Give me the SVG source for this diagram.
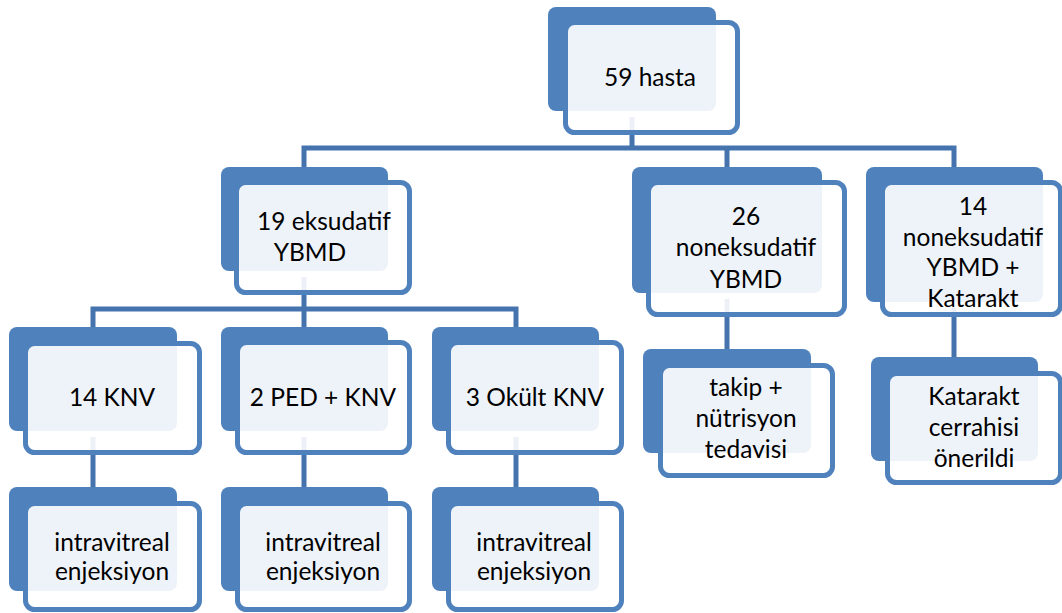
<svg xmlns="http://www.w3.org/2000/svg" width="1062" height="613" viewBox="0 0 1062 613">
<style>
.bk{fill:#4F81BD}
.fr{fill:#FFFFFF;fill-opacity:0.9;stroke:#4F81BD;stroke-width:5}
.cn{fill:none;stroke:#4573AD;stroke-width:5}
text{font-family:Lato,"Open Sans","Liberation Sans",sans-serif;font-size:24.5px;fill:#000;text-anchor:middle}
</style>
<rect width="1062" height="613" fill="#FFFFFF"/>
<g id="connectors">
<path class="cn" d="M632,117 V148"/>
<path class="cn" d="M304,167 V148 H954 V167"/>
<path class="cn" d="M727,148 V167"/>
<path class="cn" d="M304,277 V309"/>
<path class="cn" d="M93,327 V309 H516 V327"/>
<path class="cn" d="M304,309 V327"/>
<path class="cn" d="M93,437 V487"/>
<path class="cn" d="M304,437 V487"/>
<path class="cn" d="M516,437 V487"/>
<path class="cn" d="M727,299 V349"/>
<path class="cn" d="M954,308 V357"/>
</g>
<g id="n59">
<rect class="bk" x="548" y="7" width="168" height="104" rx="8"/>
<rect class="fr" x="565.5" y="22.5" width="172" height="110" rx="9"/>
<text x="650" y="86">59 hasta</text>
</g>
<g id="n19">
<rect class="bk" x="221" y="167" width="167" height="104" rx="8"/>
<rect class="fr" x="236.5" y="182.5" width="173" height="110" rx="9"/>
<text x="324" y="230">19 eksudatif</text>
<text x="310" y="261">YBMD</text>
</g>
<g id="n26">
<rect class="bk" x="632" y="167" width="190" height="126" rx="8"/>
<rect class="fr" x="648.5" y="182.5" width="196" height="132" rx="9"/>
<text x="746" y="225">26</text>
<text x="746" y="256">noneksudatif</text>
<text x="746" y="288">YBMD</text>
</g>
<g id="n14n">
<rect class="bk" x="866" y="167" width="177" height="135" rx="8"/>
<rect class="fr" x="882.5" y="182.5" width="178" height="132" rx="9"/>
<text x="973" y="215">14</text>
<text x="973" y="246">noneksudatif</text>
<text x="973" y="276">YBMD +</text>
<text x="973" y="307">Katarakt</text>
</g>
<g id="n14knv">
<rect class="bk" x="9" y="327" width="168" height="104" rx="8"/>
<rect class="fr" x="25.5" y="343.5" width="174" height="109" rx="9"/>
<text x="112" y="406">14 KNV</text>
</g>
<g id="n2ped">
<rect class="bk" x="221" y="327" width="167" height="104" rx="8"/>
<rect class="fr" x="237.5" y="342.5" width="172" height="110" rx="9"/>
<text x="323" y="406">2 PED + KNV</text>
</g>
<g id="n3okult">
<rect class="bk" x="432" y="327" width="167" height="104" rx="8"/>
<rect class="fr" x="448.5" y="342.5" width="173" height="110" rx="9"/>
<text x="535" y="406">3 Okült KNV</text>
</g>
<g id="ntakip">
<rect class="bk" x="643" y="349" width="168" height="104" rx="8"/>
<rect class="fr" x="660.5" y="365.5" width="172" height="110" rx="9"/>
<text x="746" y="396">takip +</text>
<text x="746" y="427">nütrisyon</text>
<text x="746" y="458">tedavisi</text>
</g>
<g id="nkatarakt">
<rect class="bk" x="871" y="357" width="167" height="104" rx="8"/>
<rect class="fr" x="887.5" y="373.5" width="173" height="109" rx="9"/>
<text x="974" y="405">Katarakt</text>
<text x="974" y="436">cerrahisi</text>
<text x="974" y="467">önerildi</text>
</g>
<g id="niv1">
<rect class="bk" x="9" y="487" width="168" height="104" rx="8"/>
<rect class="fr" x="25.5" y="503.5" width="174" height="106" rx="9"/>
<text x="112" y="551">intravitreal</text>
<text x="112" y="580">enjeksiyon</text>
</g>
<g id="niv2">
<rect class="bk" x="221" y="487" width="167" height="104" rx="8"/>
<rect class="fr" x="237.5" y="503.5" width="172" height="106" rx="9"/>
<text x="323" y="551">intravitreal</text>
<text x="323" y="580">enjeksiyon</text>
</g>
<g id="niv3">
<rect class="bk" x="432" y="487" width="167" height="104" rx="8"/>
<rect class="fr" x="448.5" y="503.5" width="173" height="106" rx="9"/>
<text x="534" y="551">intravitreal</text>
<text x="534" y="580">enjeksiyon</text>
</g>
</svg>
